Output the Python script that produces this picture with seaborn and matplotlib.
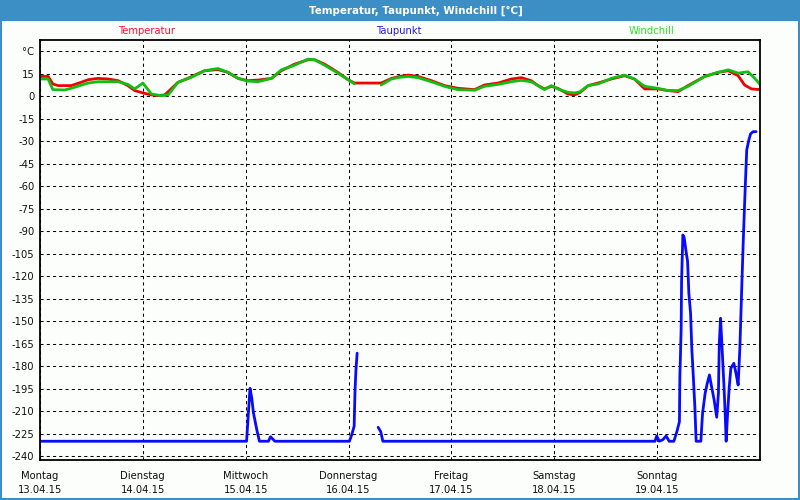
import numpy as np
import pandas as pd
import matplotlib
matplotlib.use("Agg")
import matplotlib.pyplot as plt
import seaborn as sns
from matplotlib.patches import Rectangle

# ---------------- data ----------------
temp_hours = [0, 1.9, 3, 4.2, 7.3, 9.6, 11.2, 13.5, 15.9, 18.2, 20.5, 22.1, 24, 26, 27.5, 29.1,
              30.6, 32.2, 34.5, 36.1, 38.4, 41.5, 43.9, 46.2, 48.5, 50.9, 54, 56.3, 59.4, 62.5,
              64.1, 66.4, 69.5, 71.9, 73.4, 79.6, 82, 83.9, 85.9, 88.2, 91.3, 94.4, 97.5, 101.4,
              103.7, 106.9, 110, 112.3, 114.6, 116.2, 117.7, 119.3, 120.8, 123.2, 124.7, 126,
              127.9, 130.2, 133.3, 136.4, 138.7, 141.1, 144.2, 146.5, 148.9, 151.2, 155.1, 158.2,
              160.6, 162.9, 164.4, 166, 168]
temp_values = [13.2, 13.2, 8.2, 7.1, 7.1, 9.3, 11, 11.9, 11.5, 10.4, 7.1, 3.8, 2.2, 0.9, 0.4, 0.9,
               4.9, 9.3, 11.9, 14.1, 17, 17.8, 15.9, 11.9, 10.4, 10.8, 11.9, 17, 21.4, 24.3,
               24.3, 21.4, 15.9, 11, 8.8, 8.8, 11.9, 13.2, 14.1, 13.2, 10.4, 7.1, 5.3, 4.4,
               7.5, 8.8, 11.5, 12.4, 10.4, 7.1, 4.9, 6.6, 5.3, 1.5, 0.9, 2.5,
               7.1, 8.8, 11.5, 13.7, 11.5, 4.9, 4.9, 3.8, 3.1, 7.1, 13.2, 15.9,
               17, 13.7, 7.5, 4.9, 4.4]

wind_hours = [0, 1.9, 3, 5.8, 8.1, 11.2, 13.5, 18.2, 20.5, 22.1, 24, 26, 28.3, 29.9, 32.2, 35.3,
              38.4, 41.5, 43.9, 46.2, 48.5, 50.9, 54, 56.3, 59.4, 62.5, 64.1, 66.4, 69.5, 71.9,
              73.4, 76.0, 79.6, 82, 83.9, 85.9, 88.2, 91.3, 94.4, 97.5, 101.4, 103.7, 106.9, 110,
              112.3, 114.6, 116.2, 117.7, 119.3, 120.8, 123.2, 124.7, 126, 127.9, 130.2, 133.3,
              136.4, 138.7, 141.1, 144.2, 146.5, 148.9, 151.2, 155.1, 158.2, 160.6, 162.9, 165.2,
              166.8, 168]
wind_values = [11.5, 11.5, 4.4, 4.2, 6, 8.8, 9.7, 9.7, 7.9, 4.9, 8.8, 1.5, 0.4, 0.9, 9.3, 12.6,
               17, 18.5, 15.9, 11.9, 10.1, 9.7, 11.9, 17.6, 20.7, 24.7, 24.3, 20.7, 15.4, 11,
               8.2, np.nan, 7.5, 11.5, 12.6, 13.2, 12.4, 9.7, 6.6, 4.4, 4, 6.6, 7.9, 9.7,
               10.6, 9.7, 7.1, 4.4, 7.1, 4.9, 2.6, 2.2, 3, 7.1, 8.2, 11.9,
               14.1, 11.5, 6.6, 5.3, 3.8, 3.8, 6.6, 13.2, 15.9, 17.6, 15.4, 16.3,
               11.9, 7.9]

dew_hours = [0, 48.2, 49, 49.4, 49.8, 50.6, 51.2, 53.3, 53.8, 54.8, 72.2, 72.7, 73.3, 73.5, 73.7,
             74, 76.5, 78.9, 79.5, 80, 143.5, 143.9, 144.5, 145.3, 146.1, 146.8, 147.9, 148.6,
             149.2, 149.3, 149.6, 149.7, 150, 150.3, 150.7, 151.1, 151.4, 151.8, 152.1, 152.4,
             152.8, 153.1, 154.2, 154.6, 155.2, 155.7, 156.2, 156.7, 157.3, 157.9, 158.3, 158.5,
             158.8, 159.1, 159.6, 159.9, 160.1, 160.4, 160.8, 161.2, 161.9, 162.4, 162.9, 163.3,
             163.7, 164.1, 164.5, 164.9, 165.4, 165.8, 166.4, 167.1]
dew_values = [-230, -230, -194.7, -201, -211, -222.5, -230, -230, -227, -230, -230, -226, -220, -197,
              -183.6, -171.3, np.nan, -220.7, -223.6, -230, -230, -226.5, -230, -229, -226.5, -230,
              -230, -223.6, -217, -187, -155.4, -123.6, -92.5, -94, -102.5, -110, -131.3, -144.7,
              -169, -184.7, -207, -230, -230, -211.3, -198, -191.3, -185.8, -193.6, -202.5, -214,
              -198, -164.7, -148, -164.7, -193.6, -213.6, -230, -213.6, -194.7, -181.3, -178,
              -184.7, -192.5, -168, -131.3, -95.8, -64.7, -35.8, -29.1, -25.1, -23.6, -23.6]

day_names = ["Montag", "Dienstag", "Mittwoch", "Donnerstag", "Freitag", "Samstag", "Sonntag"]
day_dates = ["13.04.15", "14.04.15", "15.04.15", "16.04.15", "17.04.15", "18.04.15", "19.04.15"]
y_ticks = list(range(-240, 31, 15))
y_labels = [("°C" if v == 30 else str(v)) for v in y_ticks]

series_names = ["Temperatur", "Taupunkt", "Windchill"]
series_colors = ["#f00000", "#0a0aff", "#10c010"]
legend_colors = ["#ff1030", "#2a1ae0", "#30e030"]


def to_frame(hours, values):
    df = pd.DataFrame({"hour": hours, "value": values})
    df["seg"] = df["value"].isna().cumsum()
    return df.dropna()


# ---------------- figure ----------------
sns.set_theme(style="white")
plt.rcParams["font.family"] = ["DejaVu Sans"]

bg = "#fcfefc"
frame_blue = "#3c8fc4"
fig = plt.figure(figsize=(8, 5), dpi=100, facecolor=bg)
ax = fig.add_axes([40 / 800, 1 - 460 / 500, 720 / 800, 420 / 500])
ax.set_facecolor(bg)

for h, v, c in [(dew_hours, dew_values, series_colors[1]),
                (temp_hours, temp_values, series_colors[0]),
                (wind_hours, wind_values, series_colors[2])]:
    sns.lineplot(data=to_frame(h, v), x="hour", y="value", units="seg", estimator=None,
                 color=c, lw=2.0, ax=ax, legend=False)

ax.set_xlim(0, 168)
ax.set_ylim(-242.5, 37.5)
ax.set_yticks(y_ticks)
ax.set_yticklabels(y_labels, fontsize=7.2, color="#101010")
ax.set_xticks([24 * i for i in range(7)])
ax.set_xticklabels([f"{n}\n{d}" for n, d in zip(day_names, day_dates)], fontsize=7.2,
                   color="#101010", linespacing=1.45)
ax.tick_params(axis="y", length=0, pad=4)
ax.tick_params(axis="x", length=0, pad=8)
ax.set_xlabel("")
ax.set_ylabel("")
ax.grid(True, color="black", linestyle=(0, (3, 3)), lw=0.75)
ax.set_axisbelow(True)
for s in ax.spines.values():
    s.set_visible(True)
    s.set_color("black")
    s.set_linewidth(1.3)

# title bar and window frame
fig.patches.append(Rectangle((0, 1 - 21 / 500), 1, 21 / 500, transform=fig.transFigure,
                             facecolor=frame_blue, edgecolor="none", zorder=0))
fig.patches.append(Rectangle((0, 0), 2 / 800, 1, transform=fig.transFigure,
                             facecolor=frame_blue, edgecolor="none", zorder=0))
fig.patches.append(Rectangle((1 - 2 / 800, 0), 2 / 800, 1, transform=fig.transFigure,
                             facecolor=frame_blue, edgecolor="none", zorder=0))
fig.patches.append(Rectangle((0, 0), 1, 2 / 500, transform=fig.transFigure,
                             facecolor=frame_blue, edgecolor="none", zorder=0))
fig.text(416 / 800, 1 - 10.5 / 500, "Temperatur, Taupunkt, Windchill [°C]", color="white",
         fontsize=7.4, fontweight="bold", ha="center", va="center")

for name, col, xc in zip(series_names, legend_colors, [147, 399, 652]):
    fig.text(xc / 800, 1 - 31.5 / 500, name, color=col, fontsize=7.2, ha="center", va="center")

fig.savefig("out.png", dpi=100, facecolor=bg)
